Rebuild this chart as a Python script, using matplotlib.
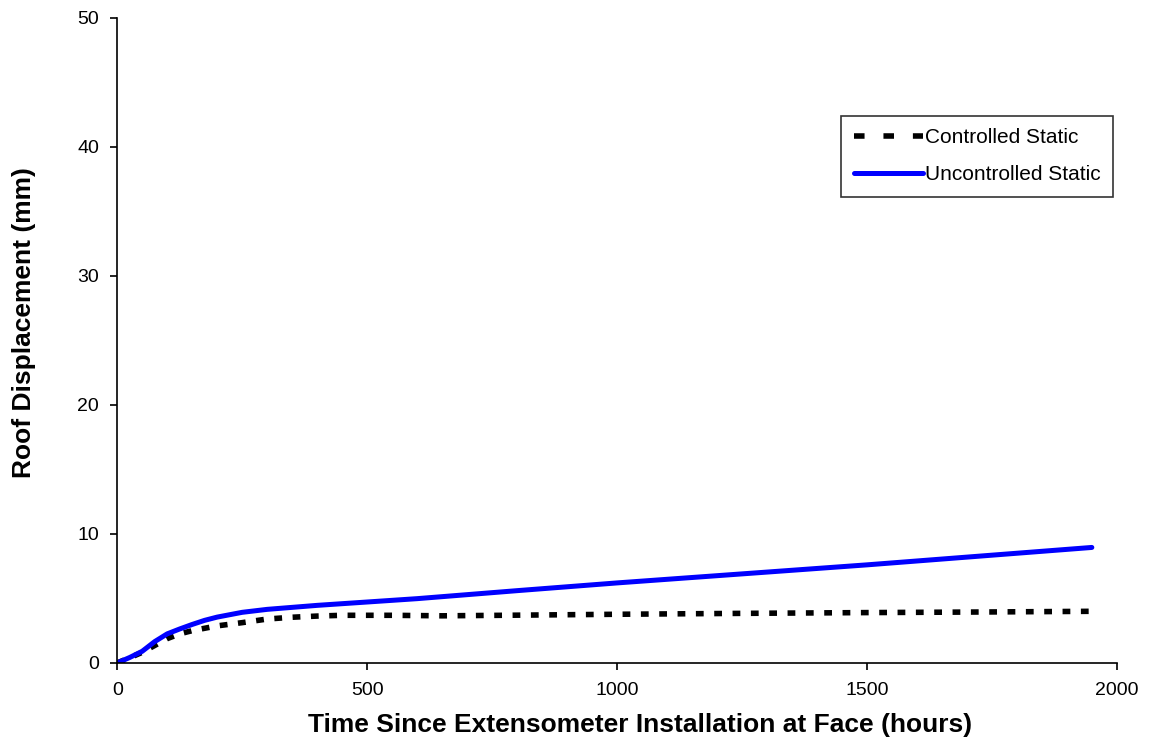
import matplotlib
matplotlib.use('Agg')
import matplotlib.pyplot as plt
from matplotlib.lines import Line2D

plt.rcParams['font.family'] = ['Liberation Sans', 'DejaVu Sans']

hours_ctrl = [0, 25, 50, 75, 100, 125, 150, 200, 250, 300, 350, 400, 450, 550, 650, 800, 1000, 1250, 1500, 1750, 1950]
disp_ctrl = [0, 0.4, 0.82, 1.35, 1.88, 2.25, 2.5, 2.87, 3.12, 3.4, 3.54, 3.63, 3.69, 3.69, 3.65, 3.7, 3.77, 3.84, 3.9, 3.95, 4.0]

hours_unc = [0, 25, 50, 75, 100, 125, 150, 175, 200, 250, 300, 400, 500, 600, 800, 1000, 1250, 1500, 1750, 1950]
disp_unc = [0, 0.42, 0.9, 1.65, 2.25, 2.63, 2.98, 3.3, 3.55, 3.92, 4.15, 4.46, 4.72, 4.98, 5.6, 6.2, 6.9, 7.6, 8.35, 8.95]

fig = plt.figure(figsize=(11.49, 7.44), dpi=100)
ax = fig.add_axes([0.102, 0.109, 0.870, 0.867])

ax.plot(hours_ctrl, disp_ctrl, color='black', linewidth=4, linestyle=(0, (1.4, 1.9)))
ax.plot(hours_unc, disp_unc, color='#0000ff', linewidth=3.6, solid_capstyle='round',
        solid_joinstyle='round')

ax.set_xlim(0, 2000)
ax.set_ylim(0, 50)
ax.set_xticks([0, 500, 1000, 1500, 2000])
ax.set_yticks([0, 10, 20, 30, 40, 50])
ax.tick_params(direction='out', length=5, width=1.2, labelsize=14)
ax.tick_params(axis='x', pad=9)
ax.tick_params(axis='y', pad=8)
ax.spines['top'].set_visible(False)
ax.spines['right'].set_visible(False)
ax.spines['left'].set_linewidth(1.2)
ax.spines['bottom'].set_linewidth(1.2)

ax.set_xlabel('Time Since Extensometer Installation at Face (hours)', fontsize=19, fontweight='bold')
ax.set_ylabel('Roof Displacement (mm)', fontsize=19, fontweight='bold')
ax.xaxis.set_label_coords(0.523, -0.078)
ax.yaxis.set_label_coords(-0.081, 0.527)

handles = [Line2D([], [], color='black', linewidth=4, linestyle=(0, (1.9, 3.4))),
           Line2D([], [], color='#0000ff', linewidth=3.6, solid_capstyle='round')]
leg = ax.legend(handles, ['Controlled Static', 'Uncontrolled Static'],
                loc='upper right', bbox_to_anchor=(0.996, 0.848), fontsize=15,
                frameon=True, fancybox=False, edgecolor='black', handlelength=3.3,
                handletextpad=0.1, borderpad=0.6, labelspacing=0.85, borderaxespad=0)
leg.get_frame().set_linewidth(1.2)

fig.savefig('out.png', dpi=100)
